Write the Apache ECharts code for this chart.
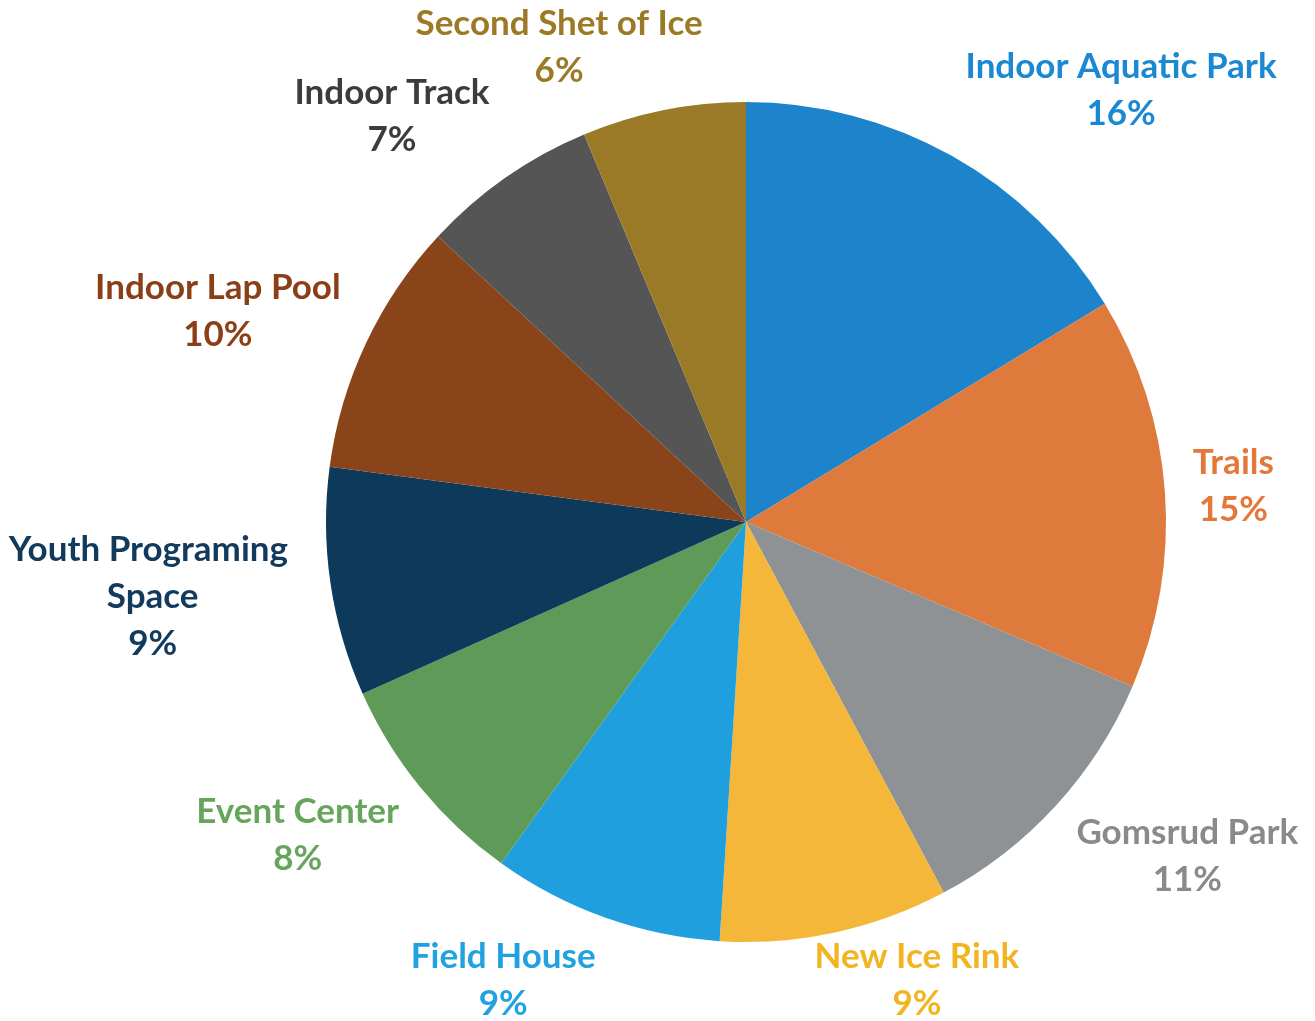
<!DOCTYPE html>
<html>
<head>
<meta charset="utf-8">
<title>Facility priorities</title>
<script src="https://cdn.jsdelivr.net/npm/echarts@6/dist/echarts.min.js"></script>
<style>
  html, body { margin: 0; padding: 0; background: #fff; }
  #chart { width: 1315px; height: 1021px; }
</style>
</head>
<body>
<div id="chart"></div>
<script>
// categories clockwise from 12 o'clock
const categories = [
  'Indoor Aquatic Park',
  'Trails',
  'Gomsrud Park',
  'New Ice Rink',
  'Field House',
  'Event Center',
  'Youth Programing Space',
  'Indoor Lap Pool',
  'Indoor Track',
  'Second Shet of Ice'
];
// share of responses (%)
const shares = [16.3, 15.1, 10.8, 8.8, 8.9, 8.4, 8.8, 9.8, 6.8, 6.3];
const sliceColors = [
  '#1d84cc', '#de7a3c', '#8e9294', '#f4b73a', '#1f9fdd',
  '#5e9a58', '#0d3a5b', '#8a4419', '#555555', '#9a7a27'
];
const labelColors = [
  '#1a88d2', '#e4773a', '#8a8a8a', '#f2b522', '#20a2e2',
  '#66a55b', '#123a5c', '#8b3f17', '#3c3c3c', '#9c7a25'
];

const chart = echarts.init(document.getElementById('chart'));

const data = categories.map(function (name, i) {
  const item = {
    name: name,
    value: shares[i],
    itemStyle: { color: sliceColors[i] },
    label: { color: labelColors[i] }
  };
  if (name === 'Youth Programing Space') {
    item.label.width = 300;
    item.label.overflow = 'break';
  }
  return item;
});

// put each label just outside the slice, sliding the box around the
// anchor point (end of the hidden label line) so it hugs the pie
function placeLabel(params) {
  const pts = params.labelLinePoints;
  const r = params.labelRect;
  if (!pts) return {};
  const dx = pts[1][0] - pts[0][0];
  const dy = pts[1][1] - pts[0][1];
  const len = Math.sqrt(dx * dx + dy * dy) || 1;
  const ux = dx / len, uy = dy / len;
  const kx = Math.max(-1, Math.min(1, ux * 3.5));
  let x = pts[1][0] + kx * r.width / 2;
  let y = pts[1][1] + uy * r.height / 2;
  // keep the text inside the canvas
  const maxY = chart.getHeight() + 6 - r.height / 2;
  const minY = r.height / 2;
  if (y > maxY) y = maxY;
  if (y < minY) y = minY;
  return { x: x, y: y, align: 'center', verticalAlign: 'middle' };
}

chart.setOption({
  backgroundColor: '#fff',
  animation: false,
  series: [{
    type: 'pie',
    center: [746, 522],
    radius: 420,
    startAngle: 90,
    clockwise: true,
    percentPrecision: 0,
    avoidLabelOverlap: false,
    label: {
      show: true,
      position: 'outside',
      formatter: '{b}\n{d}%',
      fontFamily: 'Lato',
      fontWeight: 'bold',
      fontSize: 35,
      lineHeight: 47
    },
    labelLine: {
      show: true,
      length: 28,
      length2: 0,
      lineStyle: { opacity: 0 }
    },
    labelLayout: placeLabel,
    emphasis: { disabled: true },
    data: data
  }]
});
</script>
</body>
</html>
